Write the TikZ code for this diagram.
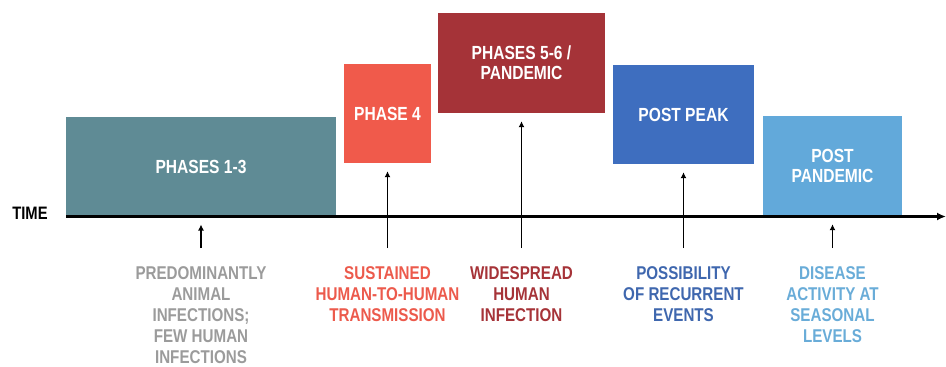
\documentclass[tikz,border=0pt]{standalone}
\usepackage{fontspec}
\newfontfamily\condfont{Liberation Sans}[FakeStretch=0.82]
\usetikzlibrary{arrows.meta}
\definecolor{cA}{HTML}{5F8B95}
\definecolor{cB}{HTML}{F05A4B}
\definecolor{cC}{HTML}{A53338}
\definecolor{cD}{HTML}{3E6EBF}
\definecolor{cE}{HTML}{62A9DA}
\definecolor{tA}{HTML}{9B9B9B}
\definecolor{tB}{HTML}{EC5A4C}
\definecolor{tC}{HTML}{A63338}
\definecolor{tD}{HTML}{3F67AE}
\definecolor{tE}{HTML}{69ACD8}
\tikzset{
  phasebox/.style={inner sep=0pt, text=white, align=center,
    font=\condfont\bfseries\fontsize{19}{20}\selectfont},
  lbl/.style={anchor=north, align=center, inner sep=0pt,
    font=\condfont\bfseries\fontsize{18.5}{21}\selectfont},
  uparrow/.style={line width=1.8pt, -{Latex[length=6pt,width=6pt]}, shorten >=8pt},
}
\begin{document}
\begin{tikzpicture}[x=1pt,y=-1pt]
\useasboundingbox (0,0) rectangle (946,367);
% boxes
\node[phasebox, fill=cA, minimum width=270pt, minimum height=100pt] (p13) at (201,166.5) {PHASES 1-3};
\node[phasebox, fill=cB, minimum width=87pt, minimum height=99pt] (p4) at (387.5,113.5) {PHASE 4};
\node[phasebox, fill=cC, minimum width=167pt, minimum height=100pt] (p56) at (521.5,63) {PHASES 5-6 /\\PANDEMIC};
\node[phasebox, fill=cD, minimum width=141pt, minimum height=99pt] (pp) at (683.5,114.5) {POST PEAK};
\node[phasebox, fill=cE, minimum width=139pt, minimum height=100pt] (ppd) at (832.5,166) {POST\\PANDEMIC};
% axis
\node[inner sep=0pt, font=\condfont\bfseries\fontsize{18}{20}\selectfont] (time) at (30,213) {TIME};
\coordinate (axs) at (66,216.5);
\coordinate (axe) at (946,216.5);
\draw[line width=2.2pt, -{Latex[length=9pt,width=8pt]}] (axs) -- (axe);
\coordinate (axA) at (201,216.5);
% labels
\node[lbl, text=tA] (lA) at (201,266) {PREDOMINANTLY\\ANIMAL\\INFECTIONS;\\FEW HUMAN\\INFECTIONS};
\node[lbl, text=tB] (lB) at (387.5,266) {SUSTAINED\\HUMAN-TO-HUMAN\\TRANSMISSION};
\node[lbl, text=tC] (lC) at (521.5,266) {WIDESPREAD\\HUMAN\\INFECTION};
\node[lbl, text=tD] (lD) at (683.5,266) {POSSIBILITY\\OF RECURRENT\\EVENTS};
\node[lbl, text=tE] (lE) at (832.5,266) {DISEASE\\ACTIVITY AT\\SEASONAL\\LEVELS};
% arrows
\draw[uparrow] ([yshift=18pt]lA.north) -- (axA);
\draw[uparrow] ([yshift=18pt]lB.north) -- (p4.south);
\draw[uparrow] ([yshift=18pt]lC.north) -- (p56.south);
\draw[uparrow] ([yshift=18pt]lD.north) -- (pp.south);
\draw[uparrow] ([yshift=18pt]lE.north) -- (ppd.south);
\end{tikzpicture}
\end{document}
